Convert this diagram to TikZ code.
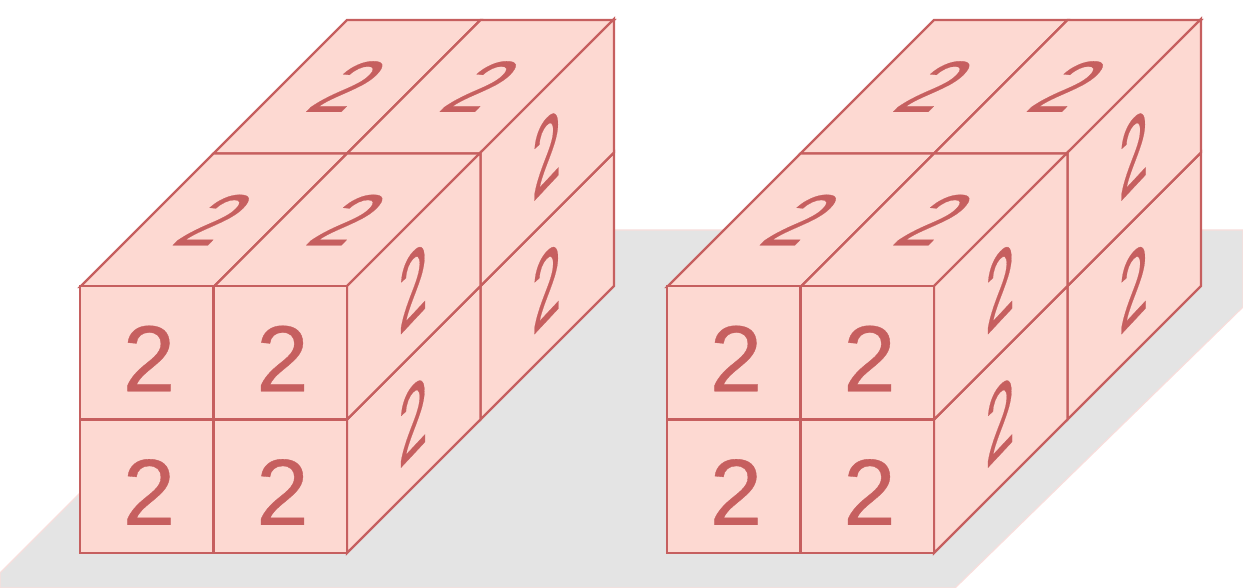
\documentclass[tikz,border=0pt]{standalone}
\usepackage{fontspec}
\usepackage{xcolor}
\newfontfamily\numfont[FakeBold=0.35]{Liberation Sans}
\usetikzlibrary{calc}
\definecolor{edge}{HTML}{C65F5F}
\definecolor{blush}{HTML}{FDD9D2}
\definecolor{floor}{HTML}{E4E4E4}
\definecolor{floorline}{HTML}{F8DEDC}
\tikzset{
  cell/.style={draw=edge,line width=2.4pt,fill=blush,line join=miter},
  shadowbox/.style={draw=floorline,line width=1.2pt,fill=floor},
  num/.style={text=edge,inner sep=0pt,transform shape,font=\numfont\fontsize{94}{94}\selectfont},
  frontnum/.style={num},
  sidenum/.style={num,cm={0.56,0.6,0,1.06,(0,0)}},
  topnum/.style={num,cm={0.82,0,0.75,0.77,(0,0)}}
}
\newcommand{\cellsize}{133.5}
\begin{document}
\begin{tikzpicture}[x=1pt,y=-1pt]
  \useasboundingbox (0,0) rectangle (1243,588);
  % floor under both blocks
  \draw[shadowbox] (0,573) -- (343,230) -- (1243,230) -- (1243,307) -- (955,588) -- (0,588) -- cycle;
  \foreach \ox in {0,587} {
    \begin{scope}[xshift=\ox]
      % top faces
      \foreach \i in {0,1} \foreach \k in {1,0} {
        \coordinate (a) at ({80+(\i+\k)*\cellsize},{287-\k*\cellsize});
        \draw[cell] (a) -- ++(\cellsize,0) -- ++(\cellsize,-\cellsize) -- ++(-\cellsize,0) -- cycle;
        \node[topnum] (top-\ox-\i-\k) at ($(a)+(135,-67)$) {2};
      }
      % side faces
      \foreach \i in {1,0} \foreach \j in {0,1} {
        \coordinate (a) at ({347+\i*\cellsize},{553-(\i+\j)*\cellsize});
        \draw[cell] (a) -- ++(\cellsize,-\cellsize) -- ++(0,-\cellsize) -- ++(-\cellsize,\cellsize) -- cycle;
        \node[sidenum] (side-\ox-\i-\j) at ($(a)+(66,-133)$) {2};
      }
      % front faces
      \foreach \i in {0,1} \foreach \j in {0,1} {
        \coordinate (a) at ({80+\i*\cellsize},{553-\j*\cellsize});
        \draw[cell] (a) rectangle ++(\cellsize,-\cellsize);
        \node[frontnum] (front-\ox-\i-\j) at ($(a)+(69,-61)$) {2};
      }
    \end{scope}
  }
\end{tikzpicture}
\end{document}
